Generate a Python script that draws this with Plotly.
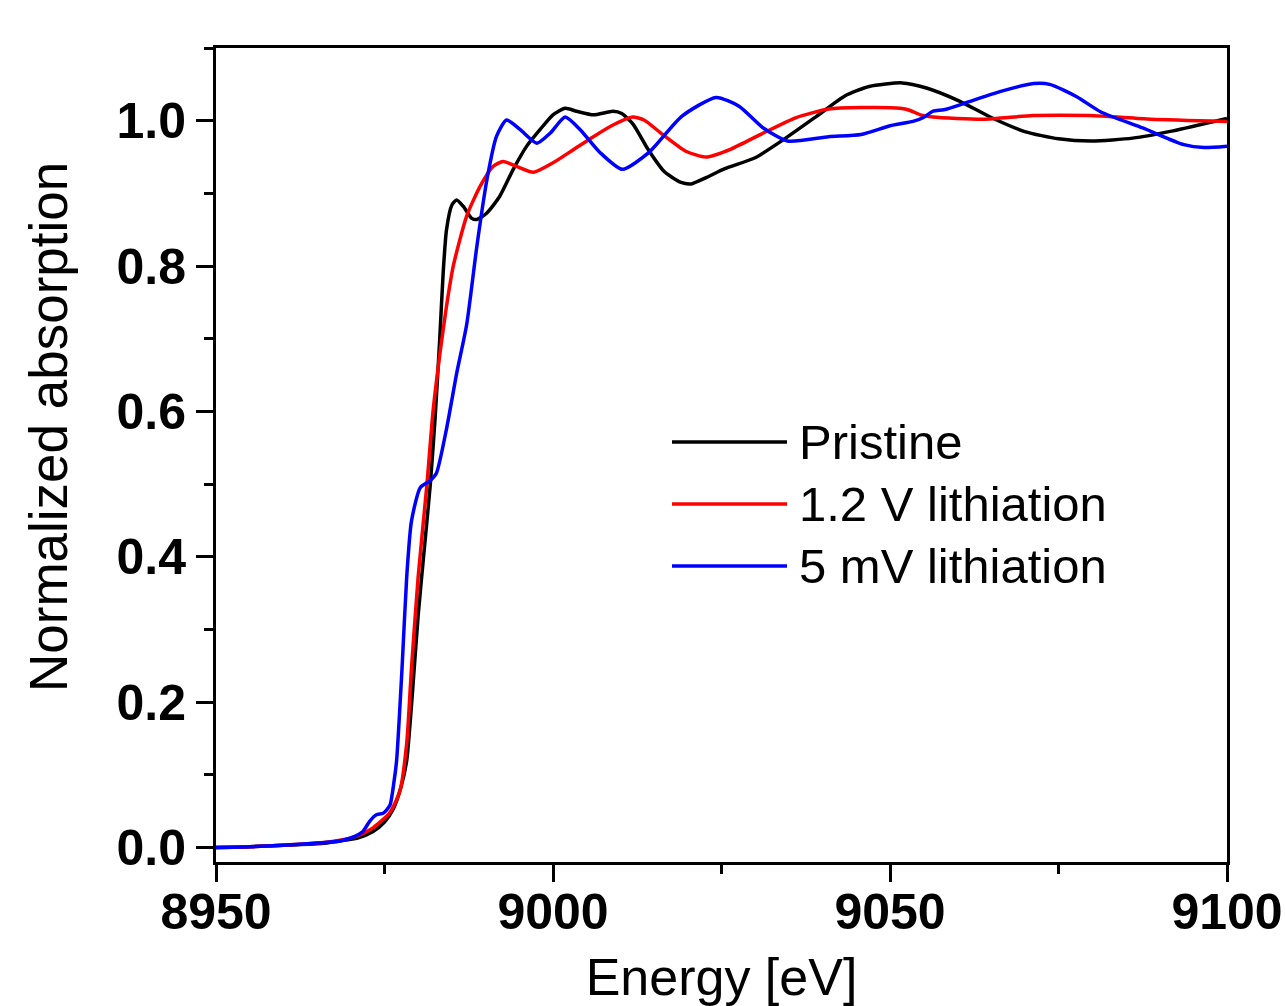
import plotly.graph_objects as go

# ---------------- data ----------------
series_names = ["Pristine", "1.2 V lithiation", "5 mV lithiation"]
series_colors = ["#000000", "#ff0000", "#0000ff"]

pristine_e = [8950, 8955, 8960, 8965, 8968.4, 8971, 8973.3, 8975, 8976.3, 8977.5, 8978.3,
              8979.0, 8980.0, 8981.0, 8981.8, 8982.5, 8983.2, 8983.7, 8984.2, 8985.0, 8985.7,
              8986.7, 8987.9, 8988.7, 8990.2, 8992.1, 8994.1, 8996.1, 8998.1, 9000.0, 9001.8,
              9003.5, 9006.0, 9008.9, 9010.2, 9011.9, 9014.0, 9016.5, 9019.0, 9020.5, 9022.8,
              9025.5, 9030.0, 9034.2, 9039.1, 9043.3, 9046.9, 9051.8, 9055.4, 9060.3, 9065.1,
              9070.0, 9075.0, 9080.0, 9086.0, 9092.0, 9100]
pristine_mu = [0.0, 0.001, 0.003, 0.005, 0.009, 0.013, 0.022, 0.035, 0.053, 0.085, 0.12,
               0.195, 0.32, 0.42, 0.50, 0.59, 0.70, 0.79, 0.85, 0.884, 0.891,
               0.882, 0.866, 0.864, 0.873, 0.896, 0.933, 0.965, 0.988, 1.008, 1.017,
               1.013, 1.008, 1.013, 1.010, 0.995, 0.962, 0.930, 0.915, 0.913, 0.922,
               0.934, 0.949, 0.974, 1.006, 1.034, 1.047, 1.052, 1.045, 1.027, 1.004,
               0.985, 0.975, 0.972, 0.976, 0.986, 1.003]

li12_e = [8950, 8955, 8960, 8965, 8968.4, 8971, 8973.3, 8975.8, 8977.3, 8978.3, 8979.0,
          8980.0, 8981.3, 8982.2, 8983.2, 8984.2, 8985.2, 8987.2, 8989.2, 8991.1, 8992.6,
          8994.6, 8997.1, 9000.0, 9003.0, 9006.0, 9008.9, 9011.8, 9013.5, 9016.0, 9019.7,
          9022.7, 9026.4, 9031.2, 9036.0, 9040.9, 9045.7, 9051.5, 9053.0, 9054.5, 9056.4,
          9063.8, 9071.2, 9079.6, 9088.7, 9100]
li12_mu = [0.0, 0.001, 0.003, 0.006, 0.010, 0.016, 0.027, 0.048, 0.078, 0.144, 0.246,
           0.373, 0.50, 0.60, 0.678, 0.745, 0.80, 0.869, 0.910, 0.937, 0.944,
           0.937, 0.929, 0.942, 0.960, 0.978, 0.994, 1.005, 1.001, 0.983, 0.958,
           0.950, 0.961, 0.983, 1.004, 1.016, 1.018, 1.017, 1.014, 1.008, 1.005,
           1.002, 1.007, 1.007, 1.002, 0.999]

li5_e = [8950, 8955, 8960, 8965, 8968.4, 8970.5, 8971.8, 8972.8, 8973.8, 8974.8, 8975.8,
         8976.4, 8976.8, 8977.6, 8978.3, 8979.0, 8980.3, 8981.8, 8982.7, 8984.2, 8985.7,
         8987.2, 8988.7, 8990.2, 8991.6, 8993.1, 8995.1, 8997.6, 8999.6, 9001.8, 9004.0,
         9007.0, 9010.3, 9014.2, 9019.1, 9024.2, 9027.6, 9031.2, 9034.8, 9040.9, 9045.7,
         9050.0, 9053.4, 9054.9, 9056.4, 9058.0, 9061.4, 9066.3, 9071.3, 9073.7, 9077.7,
         9081.3, 9087.5, 9093.6, 9096.6, 9100]
li5_mu = [0.0, 0.001, 0.003, 0.006, 0.009, 0.015, 0.022, 0.036, 0.045, 0.047, 0.058,
          0.09, 0.12, 0.246, 0.373, 0.449, 0.495, 0.505, 0.515, 0.576, 0.652,
          0.72, 0.827, 0.919, 0.978, 1.001, 0.988, 0.969, 0.983, 1.005, 0.988,
          0.956, 0.933, 0.956, 1.006, 1.032, 1.020, 0.990, 0.972, 0.978, 0.981,
          0.993, 0.999, 1.004, 1.013, 1.015, 1.025, 1.040, 1.051, 1.050, 1.033,
          1.012, 0.990, 0.967, 0.963, 0.965]

x_range = [8950, 9100]
y_range = [-0.02, 1.1]
x_tickvals = [8950, 9000, 9050, 9100]
y_tickvals = [0.0, 0.2, 0.4, 0.6, 0.8, 1.0]
x_title = "Energy [eV]"
y_title = "Normalized absorption"

xs = [pristine_e, li12_e, li5_e]
ys = [pristine_mu, li12_mu, li5_mu]

# ---------------- figure ----------------
W, H = 1285, 1006
ML, MR, MT, MB = 216, 58, 48, 144
FONT = "Liberation Sans, Arial, sans-serif"
pw = W - ML - MR
ph = H - MT - MB

fig = go.Figure()
for name, color, x, y in zip(series_names, series_colors, xs, ys):
    fig.add_trace(go.Scatter(x=x, y=y, mode="lines", name=name,
                             line=dict(color=color, width=3.5, shape="spline", smoothing=0.6),
                             showlegend=False))

axis_common = dict(
    showline=True, linecolor="black", linewidth=3, mirror=True,
    ticks="outside", ticklen=17, tickwidth=3, tickcolor="black",
    showgrid=False, zeroline=False,
    tickfont=dict(family=FONT, size=50, color="black", weight="bold"),
)

fig.update_xaxes(range=x_range, tickvals=x_tickvals,
                 minor=dict(ticks="outside", ticklen=9, tickwidth=3, tickcolor="black", dtick=25, tick0=8950),
                 title=dict(text=x_title, font=dict(family=FONT, size=52, color="black"), standoff=31),
                 ticklabelstandoff=-13,
                 **axis_common)
fig.update_yaxes(range=y_range, tickvals=y_tickvals, tickformat=".1f",
                 minor=dict(ticks="outside", ticklen=9, tickwidth=3, tickcolor="black", dtick=0.1, tick0=0),
                 ticklabelstandoff=0,
                 **axis_common)

# legend drawn manually (long sample lines as in the reference)
leg_rows_py = [442, 504, 566]
shapes = []
annotations = []
for name, color, py in zip(series_names, series_colors, leg_rows_py):
    yp = (H - MB - py) / ph
    shapes.append(dict(type="line", xref="paper", yref="paper",
                       x0=(672 - ML) / pw, x1=(787 - ML) / pw, y0=yp, y1=yp,
                       line=dict(color=color, width=3.5)))
    annotations.append(dict(xref="paper", yref="paper", x=(797 - ML) / pw, y=yp,
                            text=name, showarrow=False, xanchor="left", yanchor="middle",
                            font=dict(family=FONT, size=49, color="black")))

# y-axis title as a rotated annotation (placed as in the reference)
annotations.append(dict(xref="paper", yref="paper", x=(48 - ML) / pw, y=(H - MB - 427) / ph,
                        text=y_title, showarrow=False, textangle=-90,
                        xanchor="center", yanchor="middle",
                        font=dict(family=FONT, size=53, color="black")))

fig.update_layout(
    width=W, height=H,
    margin=dict(l=ML, r=MR, t=MT, b=MB, autoexpand=False),
    paper_bgcolor="white", plot_bgcolor="white",
    shapes=shapes, annotations=annotations,
    showlegend=False,
)

fig.write_html("out.html")
